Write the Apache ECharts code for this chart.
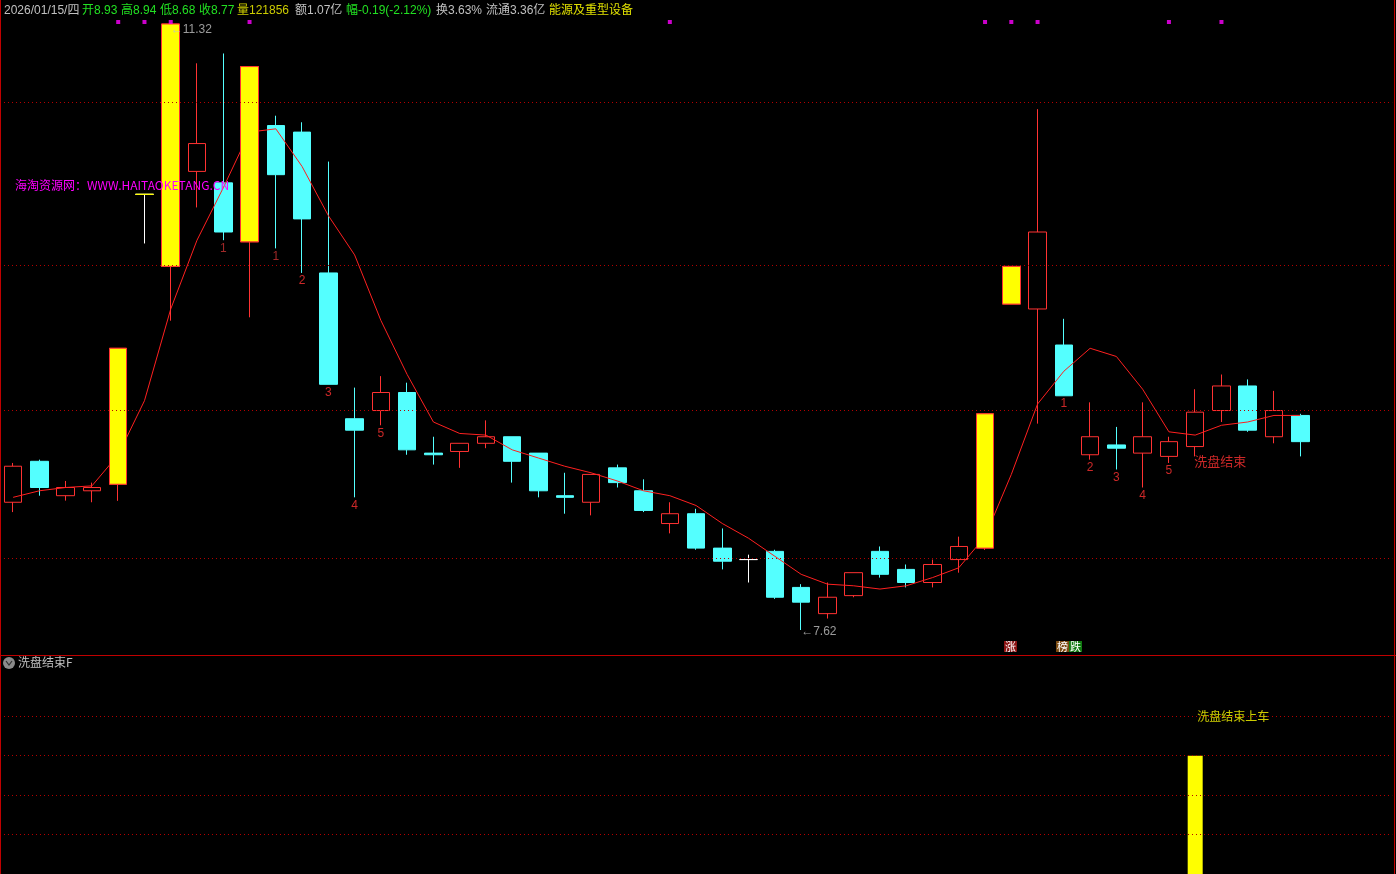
<!DOCTYPE html>
<html>
<head>
<meta charset="utf-8">
<script src="https://cdn.jsdelivr.net/npm/echarts@6/dist/echarts.min.js"></script>
<style>
html,body{margin:0;padding:0;background:#000;}
#chart{width:1396px;height:874px;}
</style>
</head>
<body>
<div id="chart"></div>
<script>
// ---------------- DATA ----------------
const slotCount = 53; // 50 trading days + empty right margin
const categories = Array.from({length: slotCount}, (_, i) => 'D' + (i + 1));

const openPrices  = [8.40,8.65,8.44,8.47,8.51,10.28,9.84,10.42,10.35,9.99,
                     10.70,10.66,9.80,8.91,8.96,9.07,8.70,8.71,8.76,8.80,
                     8.70,8.44,8.40,8.61,8.47,8.27,8.33,8.12,8.05,8.10,
                     7.88,7.72,7.83,8.10,7.99,7.91,8.05,8.12,9.61,9.58,
                     9.36,8.69,8.75,8.70,8.68,8.74,8.96,9.11,8.80,8.93];
const closePrices = [8.62,8.49,8.49,8.49,9.34,10.28,11.32,10.59,10.05,11.06,
                     10.40,10.13,9.12,8.84,9.07,8.72,8.69,8.76,8.80,8.65,
                     8.47,8.43,8.57,8.52,8.35,8.33,8.12,8.04,8.05,7.82,
                     7.79,7.82,7.97,7.96,7.91,8.02,8.13,8.94,9.84,10.05,
                     9.05,8.80,8.73,8.80,8.77,8.95,9.11,8.84,8.96,8.77];
const lowPrices   = [8.34,8.44,8.41,8.40,8.41,9.98,9.51,10.20,10.00,9.53,
                     9.95,9.80,9.12,8.43,8.87,8.69,8.63,8.61,8.73,8.52,
                     8.43,8.33,8.32,8.49,8.34,8.21,8.11,7.99,7.91,7.81,
                     7.62,7.69,7.82,7.94,7.88,7.88,7.97,8.11,9.61,8.88,
                     9.05,8.66,8.60,8.49,8.64,8.68,8.89,8.83,8.76,8.68];
const highPrices  = [8.64,8.66,8.53,8.52,9.34,10.28,11.32,11.08,11.14,11.06,
                     10.76,10.72,10.48,9.10,9.17,9.13,8.80,8.76,8.90,8.80,
                     8.70,8.58,8.57,8.63,8.54,8.40,8.36,8.24,8.08,8.11,
                     7.90,7.91,7.97,8.13,8.02,8.05,8.19,8.94,9.84,10.80,
                     9.52,9.01,8.86,9.01,8.80,9.09,9.18,9.15,9.08,8.94];
const ma5 = [8.43,8.47,8.49,8.50,8.69,9.02,9.58,10.00,10.32,10.66,
             10.68,10.45,10.15,9.91,9.51,9.18,8.89,8.82,8.81,8.72,
             8.67,8.62,8.58,8.53,8.47,8.44,8.38,8.27,8.18,8.07,
             7.96,7.90,7.89,7.87,7.89,7.94,8.00,8.19,8.57,9.00,
             9.20,9.34,9.29,9.09,8.83,8.81,8.87,8.89,8.93,8.93];

const limitUpIdx = [4, 6, 9, 37, 38];     // yellow limit-up candles
const oneTickLimitIdx = [5];              // T-shaped limit-up day
const whiteDojiIdx = [5, 28];             // open == close
const signalIdx = [4, 5, 6, 9, 25, 37, 38, 39, 44, 46]; // magenta marks on top
const countIdx   = [8, 10, 11, 12, 13, 14, 40, 41, 42, 43, 44];
const countText  = ['1','1','2','3','4','5','1','2','3','4','5'];
const dimCountIdx = [8, 10];
const washEndIdx = 45;
const washEndText = '洗盘结束';
const maxIdx = 6, minIdx = 30;
const priceLevels = [10.84, 9.85, 8.96, 8.06];
const subLevels = [1, 2, 3, 4];
const buyBarValue = 3;
const buyTextValue = 4;
const buyText = '洗盘结束上车';
const subTitle = '洗盘结束F';
const watermark = '海淘资源网：WWW.HAITAOKETANG.CN';
const headerTexts = ['2026/01/15/四','开8.93','高8.94','低8.68','收8.77','量121856',
                     '额1.07亿','幅-0.19(-2.12%)','换3.63%','流通3.36亿','能源及重型设备'];

// ---------------- STYLE / LAYOUT ----------------
const RED = '#FF3232', CYAN = '#54FFFF', YEL = '#FFFF00', GRID_RED = '#B40000';
const GRAY = '#C0C0C0', GREEN = '#22E022', OLIVE = '#CCCC00', MAGENTA = '#FF00FF';
const FONT = '"Liberation Sans", "Noto Sans CJK SC", sans-serif';
const PRICE_MIN = 7.4674, PRICE_MAX = 11.3566;
const headerColors = [GRAY, GREEN, GREEN, GREEN, GREEN, OLIVE, GRAY, GREEN, GRAY, GRAY, '#E0E000'];
const headerX = [4, 82, 121, 160, 199, 237, 295, 346, 436, 486, 549];

const N = openPrices.length;
const mainData = [];
for (let i = 0; i < slotCount; i++) {
  if (i >= N) { mainData.push('-'); continue; }
  const v = [openPrices[i], closePrices[i], lowPrices[i], highPrices[i]];
  if (whiteDojiIdx.includes(i)) {
    mainData.push({value: v, itemStyle: {color: '#FFFFFF', color0: '#FFFFFF', borderColor: '#FFFFFF', borderColor0: '#FFFFFF', borderColorDoji: '#FFFFFF'}});
  } else {
    mainData.push(v);
  }
}
const limitData = [];
for (let i = 0; i < slotCount; i++) {
  if (limitUpIdx.includes(i)) {
    limitData.push([openPrices[i], closePrices[i], lowPrices[i], highPrices[i]]);
  } else if (oneTickLimitIdx.includes(i)) {
    limitData.push({value: [openPrices[i], closePrices[i], highPrices[i], highPrices[i]],
      itemStyle: {borderColor: YEL, borderColor0: YEL, borderColorDoji: YEL, color: YEL, color0: YEL}});
  } else {
    limitData.push('-');
  }
}
const maData = categories.map((_, i) => i < N ? ma5[i] : '-');

const countData = countIdx.map((idx, k) => ({
  value: [idx, lowPrices[idx]],
  label: {formatter: countText[k], color: dimCountIdx.includes(idx) ? '#C83232' : RED}
}));

const subBarData = categories.map((_, i) => i === washEndIdx ? buyBarValue : '-');

const option = {
  backgroundColor: '#000',
  animation: false,
  grid: [
    {left: -2, width: 1394.2, top: 18, height: 637},
    {left: -2, width: 1394.2, top: 656, height: 218}
  ],
  xAxis: [
    {type: 'category', gridIndex: 0, data: categories, boundaryGap: true, show: false},
    {type: 'category', gridIndex: 1, data: categories, boundaryGap: true, show: false}
  ],
  yAxis: [
    {type: 'value', gridIndex: 0, min: PRICE_MIN, max: PRICE_MAX, show: false, splitLine: {show: false}},
    {type: 'value', gridIndex: 1, min: 0, max: 5.53, show: false, splitLine: {show: false}}
  ],
  series: [
    {
      type: 'candlestick', name: 'K', xAxisIndex: 0, yAxisIndex: 0, z: 2,
      barWidth: 18, data: mainData,
      itemStyle: {color: 'transparent', color0: CYAN, borderColor: RED, borderColor0: CYAN, borderWidth: 1}
    },
    {
      type: 'line', name: 'MA5', xAxisIndex: 0, yAxisIndex: 0, z: 3,
      data: maData, symbol: 'none', smooth: false,
      lineStyle: {color: '#FF2020', width: 1},
      markLine: {
        silent: true, symbol: ['none', 'none'], label: {show: false},
        lineStyle: {color: GRID_RED, type: [1, 3], width: 1},
        data: priceLevels.map(v => ({yAxis: v}))
      }
    },
    {
      type: 'candlestick', name: 'ZT', xAxisIndex: 0, yAxisIndex: 0, z: 4,
      barWidth: 18, data: limitData,
      itemStyle: {color: YEL, color0: YEL, borderColor: RED, borderColor0: RED, borderWidth: 1}
    },
    {
      type: 'scatter', xAxisIndex: 0, yAxisIndex: 0, z: 5, clip: false,
      symbol: 'rect', symbolSize: 4, symbolOffset: [0, 4],
      itemStyle: {color: MAGENTA},
      data: signalIdx.map(i => [i, PRICE_MAX])
    },
    {
      type: 'scatter', xAxisIndex: 0, yAxisIndex: 0, z: 6, symbolSize: 0, clip: false,
      label: {show: true, position: 'bottom', distance: 2, fontSize: 12, fontFamily: FONT},
      data: countData
    },
    {
      type: 'scatter', xAxisIndex: 0, yAxisIndex: 0, z: 6, symbolSize: 0, clip: false,
      label: {show: true, position: 'right', distance: -1, offset: [0, 5], fontSize: 13,
              fontFamily: '"Noto Sans CJK SC", sans-serif', color: RED, formatter: washEndText},
      data: [[washEndIdx, lowPrices[washEndIdx]]]
    },
    {
      type: 'scatter', xAxisIndex: 0, yAxisIndex: 0, z: 6, symbolSize: 0, clip: false,
      label: {show: true, position: 'right', distance: 0, fontSize: 12, fontFamily: FONT, color: GRAY,
              formatter: p => '←' + p.value[1].toFixed(2)},
      data: [
        {value: [maxIdx, highPrices[maxIdx]], label: {offset: [0, 6]}},
        {value: [minIdx, lowPrices[minIdx]], label: {offset: [0, 2]}}
      ]
    },
    {
      type: 'bar', xAxisIndex: 1, yAxisIndex: 1, barWidth: 15, z: 3,
      itemStyle: {color: YEL}, data: subBarData,
      markLine: {
        silent: true, symbol: ['none', 'none'], label: {show: false},
        lineStyle: {color: GRID_RED, type: [1, 3], width: 1},
        data: subLevels.map(v => ({yAxis: v}))
      }
    },
    {
      type: 'scatter', xAxisIndex: 1, yAxisIndex: 1, z: 6, symbolSize: 0, clip: false,
      label: {show: true, position: 'right', distance: 2, fontSize: 12,
              fontFamily: '"Noto Sans CJK SC", sans-serif', color: YEL, formatter: buyText},
      data: [[washEndIdx, buyTextValue]]
    }
  ],
  graphic: [
    ...headerTexts.map((t, i) => ({
      type: 'text', left: headerX[i], top: 5, z: 10,
      style: {text: t, fill: headerColors[i], font: '12px ' + FONT}
    })),
    {type: 'text', left: 15, top: 179, z: 10,
     style: {text: watermark, fill: MAGENTA, font: '12px "Noto Sans CJK SC", sans-serif'}},
    {type: 'line', z: 10, shape: {x1: 0, y1: 655.5, x2: 1396, y2: 655.5}, style: {stroke: '#C00000', lineWidth: 1}},
    {type: 'line', z: 10, shape: {x1: 0.5, y1: 0, x2: 0.5, y2: 874}, style: {stroke: '#C00000', lineWidth: 1}},
    {type: 'line', z: 10, shape: {x1: 1394.5, y1: 0, x2: 1394.5, y2: 874}, style: {stroke: '#C00000', lineWidth: 1}},
    {type: 'circle', z: 10, shape: {cx: 9, cy: 663, r: 6}, style: {fill: '#8A8A8A'}},
    {type: 'polyline', z: 11, shape: {points: [[6, 661], [9, 665], [12, 661]]}, style: {stroke: '#303030', lineWidth: 1.2, fill: null}},
    {type: 'text', left: 18, top: 656, z: 10,
     style: {text: subTitle, fill: GRAY, font: '12px "Noto Sans CJK SC", sans-serif'}},
    {type: 'text', left: 1004, top: 641, z: 10,
     style: {text: '涨', fill: '#FFFFFF', backgroundColor: '#8B1414', padding: [0, 1], font: '11px "Noto Sans CJK SC", sans-serif'}},
    {type: 'text', left: 1056, top: 641, z: 10,
     style: {text: '榜', fill: '#FFFFFF', backgroundColor: '#7B4A10', padding: [0, 1], font: '11px "Noto Sans CJK SC", sans-serif'}},
    {type: 'text', left: 1069, top: 641, z: 10,
     style: {text: '跌', fill: '#FFFFFF', backgroundColor: '#107A10', padding: [0, 1], font: '11px "Noto Sans CJK SC", sans-serif'}}
  ]
};

const chart = echarts.init(document.getElementById('chart'));
chart.setOption(option);
</script>
</body>
</html>
